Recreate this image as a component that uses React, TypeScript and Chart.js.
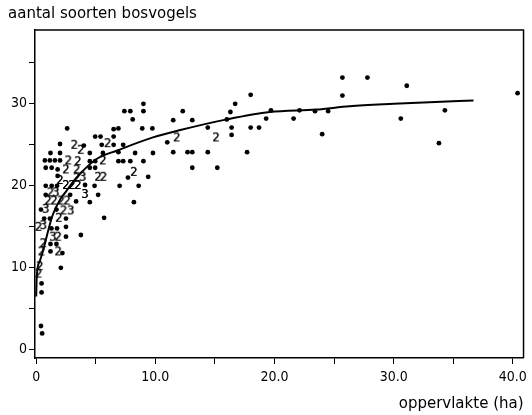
import React, { useEffect, useRef } from "react";
import { Chart, registerables } from "chart.js";

Chart.register(...registerables);

// ---- data ----
const dotX = [
  0.5, 0.4, 0.45, 0.45, 2.07, 1.2, 2.2, 1.2, 1.7, 2.5, 3.75, 1.28, 1.75, 2.5, 0.67, 1.15, 2.5, 5.7, 0.4, 1.7,
  0.8, 2.85, 3.35, 4.5, 5.2, 8.2,
  0.8, 1.3, 1.75, 4.1, 4.9, 7.0, 8.6,
  1.8, 7.7, 9.4,
  0.8, 1.3, 1.8, 4.5, 4.95, 13.1, 15.2,
  0.73, 1.15, 1.57, 2.0, 4.5, 4.95, 6.9, 7.3, 7.9, 9.0,
  1.2, 2.0, 4.5, 5.6, 6.9, 8.3, 9.8, 11.5, 12.7, 13.1, 14.4, 17.7,
  2.0, 4.0, 5.5, 6.5, 7.3, 11.0, 33.8,
  4.95, 5.4, 6.5, 16.4, 24.0,
  2.6, 6.5, 6.9, 8.9, 9.75, 14.4, 16.4, 18.0, 18.7,
  8.1, 11.5, 13.1, 16.0, 19.3, 21.6, 30.6,
  7.4, 7.9, 9.0, 12.3, 16.3, 19.7, 22.1, 23.4, 24.5, 34.3,
  9.0, 16.7, 18.0, 25.7, 25.7, 27.8, 31.1, 40.4,
];
const dotY = [
  2.0, 2.9, 7.0, 8.1, 10.0, 12.0, 11.8, 12.9, 12.9, 13.8, 14.0, 14.8, 14.8, 15.0, 16.0, 16.0, 16.0, 16.1, 17.1, 17.1,
  18.9, 18.9, 18.1, 18.0, 18.9, 18.0,
  20.0, 20.0, 20.0, 20.1, 20.0, 20.0, 20.0,
  21.2, 21.0, 21.1,
  22.2, 22.2, 22.0, 22.2, 22.2, 22.2, 22.2,
  23.1, 23.1, 23.1, 23.1, 23.0, 23.0, 23.0, 23.0, 23.0, 23.0,
  24.0, 24.0, 24.0, 24.0, 24.1, 24.0, 24.0, 24.1, 24.1, 24.1, 24.1, 24.1,
  25.1, 24.9, 25.0, 25.0, 25.0, 25.3, 25.2,
  26.0, 26.0, 26.0, 26.2, 26.3,
  27.0, 26.9, 27.0, 27.0, 27.0, 27.1, 27.1, 27.1, 27.1,
  28.1, 28.0, 28.0, 28.1, 28.2, 28.2, 28.2,
  29.1, 29.1, 29.1, 29.1, 29.0, 29.2, 29.2, 29.1, 29.1, 29.2,
  30.0, 30.0, 31.1, 31.0, 33.2, 33.2, 32.2, 31.3,
];

// overlapping observations, shown by their count
const multiX = [
  3.2, 3.75, 6.0, 2.7, 3.5, 5.6, 2.5, 3.4, 3.4, 5.2, 5.65, 8.2, 11.8, 15.1, 2.0, 2.5, 3.0, 3.5,
  1.2, 1.0, 1.5, 2.1, 2.6, 2.3, 1.9, 0.2, 1.85, 0.6, 0.45, 1.85, 0.3, 0.2,
  3.9, 4.1, 1.65, 0.8, 2.9, 0.6, 1.4,
];
const multiY = [
  25.0, 24.4, 25.2, 23.1, 23.0, 23.1, 22.0, 22.0, 21.0, 21.1, 21.1, 21.7, 25.9, 25.9, 20.7, 20.1, 20.1, 20.1,
  19.2, 18.2, 18.2, 18.2, 18.2, 17.0, 16.1, 15.0, 13.8, 13.0, 12.0, 12.0, 10.2, 9.3,
  21.1, 19.0, 19.2, 17.2, 17.0, 15.2, 13.8,
];
const multiLabel = [
  "2", "2", "2", "2", "2", "2", "2", "2", "2", "2", "2", "2", "2", "2", "2", "2", "2", "2",
  "2", "2", "2", "2", "2", "2", "2", "2", "2", "2", "2", "2", "2", "2",
  "3", "3", "3", "3", "3", "3", "3",
];

// fitted curve
const fitX = [0, 0.05, 0.3, 0.6, 1.0, 1.4, 2.0, 2.4, 3.0, 3.7, 5.1, 6.8, 9.8, 12.1, 16.0, 19.6, 23.5, 26.3, 30.0, 33.0, 36.7];
const fitY = [6.5, 9.0, 10.8, 12.2, 14.5, 16.5, 18.3, 19.1, 20.3, 21.5, 23.3, 24.3, 25.9, 26.8, 28.1, 29.0, 29.3, 29.7, 30.0, 30.2, 30.4];

const xTickValues = [0, 5, 10, 15, 20, 25, 30, 35, 40];
const xTickText = ["0", "", "10.0", "", "20.0", "", "30.0", "", "40.0"];
const yTickValues = [0, 5, 10, 15, 20, 25, 30, 35];
const yTickText = ["0", "", "10", "", "20", "", "30", ""];

const yTitle = "aantal soorten bosvogels";
const xTitle = "oppervlakte (ha)";

const NARROW = '"Liberation Sans Narrow", "DejaVu Sans Condensed", "Liberation Sans", sans-serif';
const WIDE = '"DejaVu Sans", "Liberation Sans", sans-serif';

function makeGlyph(text: string): HTMLCanvasElement {
  const c = document.createElement("canvas");
  c.width = 10;
  c.height = 14;
  const g = c.getContext("2d")!;
  g.fillStyle = "#000";
  g.font = "13px " + NARROW;
  g.textAlign = "center";
  g.textBaseline = "middle";
  g.fillText(text, 5, 7.5);
  g.fillText(text, 5, 7.5);
  return c;
}

const framePlugin = {
  id: "frame",
  afterDraw(chart: any) {
    const { ctx, chartArea } = chart;
    ctx.save();
    ctx.strokeStyle = "#000";
    ctx.lineWidth = 1.5;
    ctx.beginPath();
    ctx.moveTo(chartArea.left, chartArea.top);
    ctx.lineTo(chartArea.right, chartArea.top);
    ctx.lineTo(chartArea.right, chartArea.bottom);
    ctx.stroke();
    ctx.restore();
  },
};

export default function App() {
  const ref = useRef<HTMLCanvasElement>(null);

  useEffect(() => {
    document.body.style.margin = "0";
    document.body.style.background = "#fff";
    const glyphs: Record<string, HTMLCanvasElement> = { "2": makeGlyph("2"), "3": makeGlyph("3") };

    const chart = new Chart(ref.current!, {
      type: "scatter",
      data: {
        datasets: [
          {
            type: "line",
            label: "fit",
            data: fitX.map((x, i) => ({ x, y: fitY[i] })),
            borderColor: "#000",
            borderWidth: 2,
            pointRadius: 0,
            cubicInterpolationMode: "monotone",
            fill: false,
          } as any,
          {
            label: "waarnemingen",
            data: dotX.map((x, i) => ({ x, y: dotY[i] })),
            backgroundColor: "#000",
            borderColor: "#000",
            pointRadius: 2.4,
            borderWidth: 0,
          },
          {
            label: "meervoudig",
            data: multiX.map((x, i) => ({ x, y: multiY[i] })),
            pointStyle: (ctx: any) => glyphs[multiLabel[ctx.dataIndex]] || "circle",
            pointRadius: 5,
            backgroundColor: "#000",
            borderColor: "#000",
          } as any,
        ],
      },
      options: {
        responsive: false,
        devicePixelRatio: 1,
        animation: false,
        layout: { padding: { left: 8, right: 8, top: 0, bottom: 0 } },
        plugins: {
          legend: { display: false },
          tooltip: { enabled: false },
          title: {
            display: true,
            text: yTitle,
            align: "start",
            color: "#000",
            font: { family: WIDE, size: 15, weight: "normal" },
            padding: { top: 5, bottom: 7 },
          },
        },
        scales: {
          x: {
            type: "linear",
            min: -0.1,
            max: 40.9,
            afterBuildTicks: (s: any) => {
              s.ticks = xTickValues.map((v) => ({ value: v }));
            },
            afterFit: (s: any) => {
              s.height = 57;
            },
            ticks: {
              autoSkip: false,
              maxRotation: 0,
              color: "#000",
              padding: 5,
              font: { family: NARROW, size: 14 },
              callback: (v: any) => {
                const i = xTickValues.indexOf(Number(v));
                return i >= 0 ? xTickText[i] : "";
              },
            },
            grid: { display: true, drawOnChartArea: false, drawTicks: true, tickLength: 6, color: "#000", lineWidth: 1 },
            border: { display: true, color: "#000", width: 1.5 },
            title: {
              display: true,
              text: xTitle,
              align: "end",
              color: "#000",
              font: { family: WIDE, size: 15 },
              padding: { top: 0, bottom: 2 },
            },
          },
          y: {
            type: "linear",
            min: -1,
            max: 39,
            afterBuildTicks: (s: any) => {
              s.ticks = yTickValues.map((v) => ({ value: v }));
            },
            afterFit: (s: any) => {
              s.width = 27;
            },
            ticks: {
              autoSkip: false,
              color: "#000",
              padding: 2,
              font: { family: NARROW, size: 14 },
              callback: (v: any) => {
                const i = yTickValues.indexOf(Number(v));
                return i >= 0 ? yTickText[i] : "";
              },
            },
            grid: { display: true, drawOnChartArea: false, drawTicks: true, tickLength: 6, color: "#000", lineWidth: 1 },
            border: { display: true, color: "#000", width: 1.5 },
          },
        },
      } as any,
      plugins: [framePlugin],
    });
    return () => chart.destroy();
  }, []);

  return (
    <div style={{ width: 532, height: 415 }}>
      <canvas ref={ref} width={532} height={415} />
    </div>
  );
}
